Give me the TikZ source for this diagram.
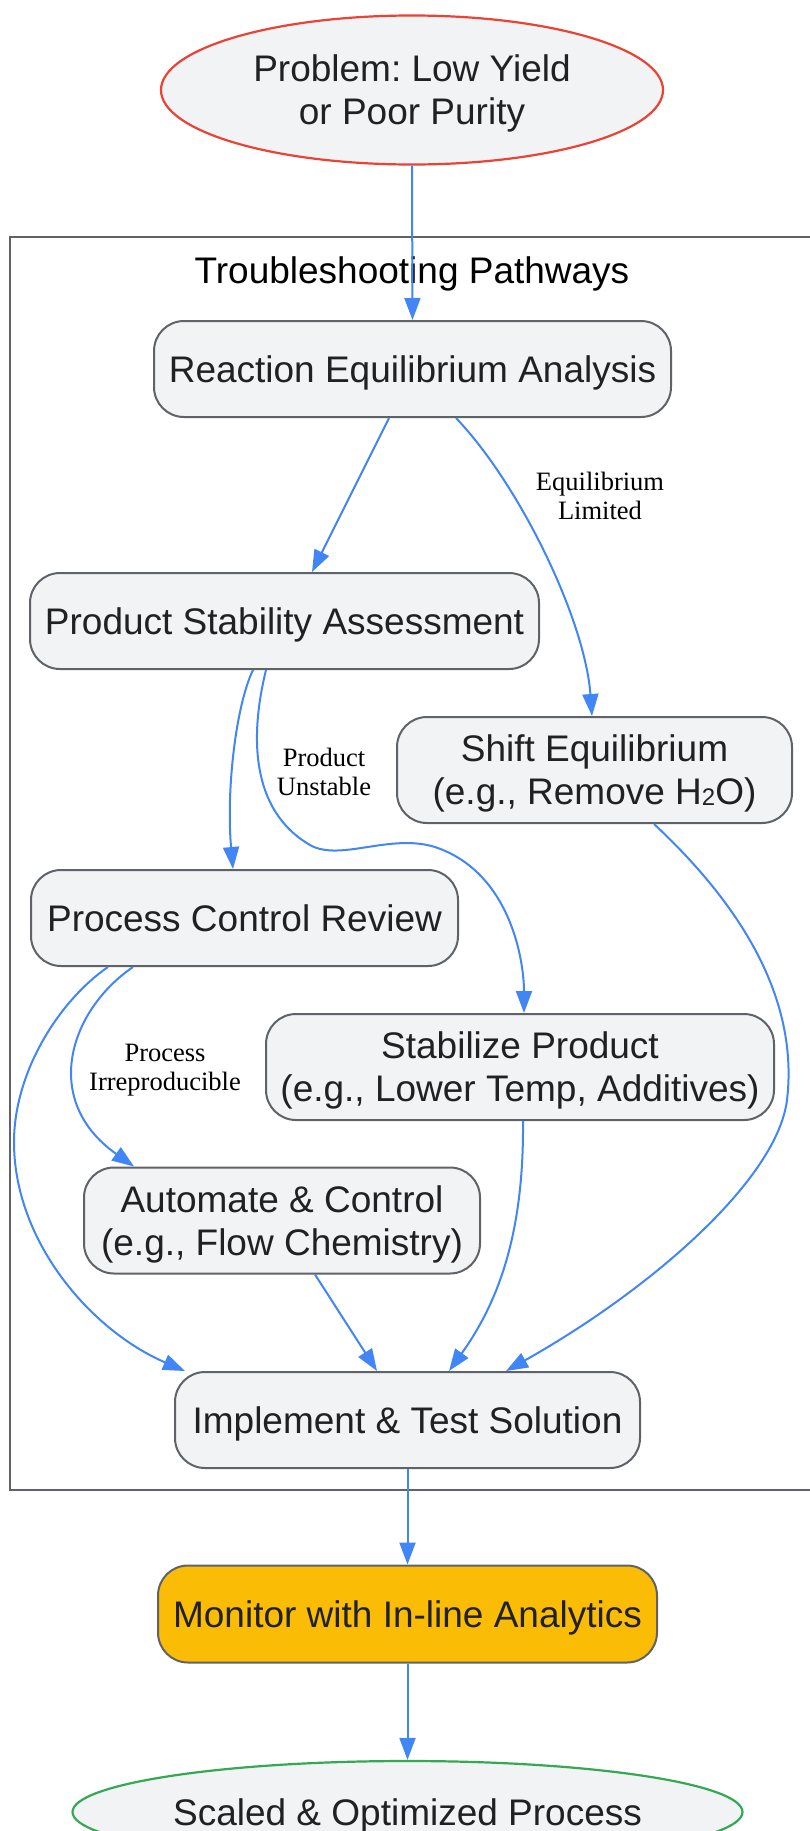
\documentclass[tikz,border=0pt]{standalone}
\usepackage{fontspec}
\setmainfont{Liberation Sans}
\newfontfamily\lblfont{Liberation Serif}
\usetikzlibrary{arrows.meta,shapes.geometric}
\definecolor{nodefill}{HTML}{F1F3F5}
\definecolor{nodeline}{HTML}{5F6368}
\definecolor{edgeblue}{HTML}{4285F4}
\definecolor{probred}{HTML}{EA4335}
\definecolor{okgreen}{HTML}{34A853}
\definecolor{monfill}{HTML}{FBBC05}
\definecolor{txt}{HTML}{202124}
\frenchspacing
\begin{document}
\begin{tikzpicture}[x=1pt,y=-1pt,
  nodetext/.style={text=txt, align=center, font=\fontsize{37}{43}\selectfont, text depth=-9pt},
  box/.style={nodetext, draw=nodeline, line width=2pt, fill=nodefill, rounded corners=30pt, inner sep=0pt},
  oval/.style={nodetext, ellipse, line width=2.2pt, fill=nodefill, inner sep=0pt},
  edge/.style={draw=edgeblue, line width=2pt, -{Triangle[length=22pt,width=16pt]}},
  lbl/.style={text=black, align=center, font=\lblfont\fontsize{26.5}{29}\selectfont, inner sep=0pt}]
\useasboundingbox (0,0) rectangle (809,1831);
% cluster
\node[draw=nodeline, line width=2pt, minimum width=806pt, minimum height=1253pt, anchor=north west, inner sep=0pt] (cluster) at (9,236) {};
\node[text=black, font=\fontsize{37}{43}\selectfont] (title) at (412,274) {Troubleshooting Pathways};
% nodes
\node[oval, draw=probred, minimum width=502pt, minimum height=149pt] (prob) at (412,90) {Problem: Low Yield\\or Poor Purity};
\node[box, minimum width=517pt, minimum height=96pt] (reac) at (412.5,369) {Reaction Equilibrium Analysis};
\node[box, minimum width=509pt, minimum height=96pt] (prod) at (284.5,621) {Product Stability Assessment};
\node[box, minimum width=395pt, minimum height=106pt] (shift) at (594.5,770) {Shift Equilibrium\\(e.g., Remove H\raisebox{-0.02em}{\fontsize{24}{24}\selectfont 2}O)};
\node[box, minimum width=427pt, minimum height=96pt] (pcr) at (244.5,918) {Process Control Review};
\node[box, minimum width=508pt, minimum height=106pt] (stab) at (520,1067) {Stabilize Product\\(e.g., Lower Temp, Additives)};
\node[box, minimum width=396pt, minimum height=106pt] (auto) at (282,1220.5) {Automate \& Control\\(e.g., Flow Chemistry)};
\node[box, minimum width=465pt, minimum height=96pt] (impl) at (407.5,1420) {Implement \& Test Solution};
\node[box, fill=monfill, minimum width=499pt, minimum height=97pt] (mon) at (407.5,1614) {Monitor with In-line Analytics};
\node[oval, draw=okgreen, minimum width=670pt, minimum height=102pt] (scaled) at (407.5,1812) {Scaled \& Optimized Process};
% labels
\node[lbl] (l1) at (600,496) {Equilibrium\\Limited};
\node[lbl] (l2) at (324,772) {Product\\Unstable};
\node[lbl] (l3) at (165,1070) {Process\\Irreproducible};
% edges
\draw[edge] (prob.south) -- (reac.north);
\draw[edge] ([xshift=-23.5pt]reac.south) -- ([xshift=27.5pt]prod.north);
\draw[edge] ([xshift=43.5pt]reac.south) .. controls (520,485) and (585,620) .. ([xshift=-2.5pt]shift.north);
\draw[edge] ([xshift=-31.5pt]prod.south) .. controls (236,705) and (226,790) .. ([xshift=-11.5pt]pcr.north);
\draw[edge] ([xshift=-18.5pt]prod.south) .. controls (250,735) and (250,810) .. (310,845)
   .. controls (340,862) and (390,833) .. (435,847)
   .. controls (510,872) and (524,960) .. ([xshift=4pt]stab.north);
\draw[edge] ([xshift=59.5pt]shift.south) .. controls (730,895) and (800,990) .. (787,1100)
   .. controls (777,1180) and (650,1290) .. ([xshift=98.5pt]impl.north);
\draw[edge] ([xshift=-136.5pt]pcr.south) .. controls (60,1000) and (15,1070) .. (14,1140)
   .. controls (13,1240) and (90,1330) .. ([xshift=11pt]impl.north west);
\draw[edge] ([xshift=-111.5pt]pcr.south) .. controls (70,1010) and (40,1100) .. ([xshift=-148pt]auto.north);
\draw[edge] ([xshift=33pt]auto.south) -- ([xshift=-30.5pt]impl.north);
\draw[edge] ([xshift=3pt]stab.south) .. controls (524,1230) and (500,1300) .. ([xshift=41.5pt]impl.north);
\draw[edge] (impl.south) -- (mon.north);
\draw[edge] (mon.south) -- (scaled.north);
\end{tikzpicture}
\end{document}
